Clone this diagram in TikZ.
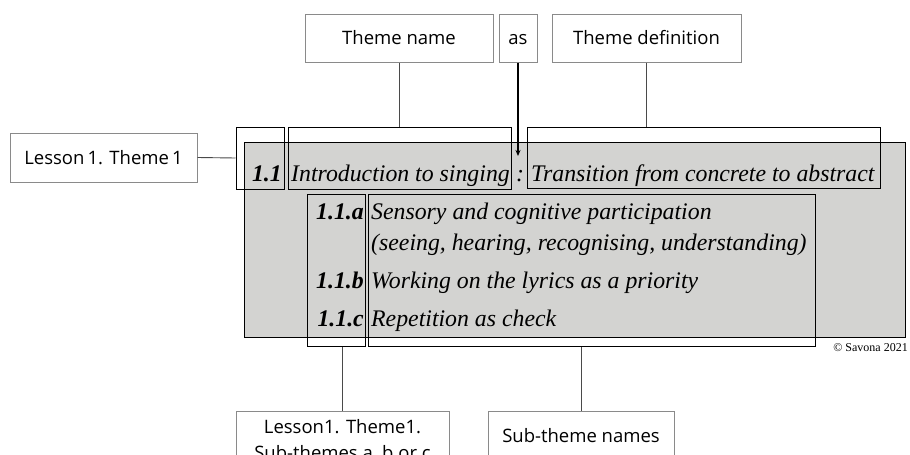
\documentclass[tikz,border=0pt]{standalone}
\usepackage{fontspec}
\setmainfont{Liberation Serif}
\newfontfamily\lblfont{Open Sans}
\usetikzlibrary{arrows.meta}
\definecolor{tablegrey}{HTML}{D3D3D1}
\definecolor{framegrey}{HTML}{8A8A8A}
\definecolor{linkgrey}{HTML}{4A4A4A}
\tikzset{
  lblbox/.style={draw=framegrey, line width=1pt, fill=white, inner sep=0pt,
    font=\lblfont\fontsize{18.5}{26}\selectfont, align=center},
  cell/.style={draw=black, line width=1pt, inner sep=0pt},
  link/.style={draw=linkgrey, line width=0.9pt},
  tt/.style={inner sep=0pt, anchor=base west, font=\fontsize{23.8}{28}\selectfont\itshape},
  nn/.style={inner sep=0pt, anchor=base east, font=\fontsize{23.8}{28}\selectfont\bfseries\itshape},
}
\begin{document}
\begin{tikzpicture}[x=1pt,y=-1pt]
\useasboundingbox (0,0) rectangle (910,455);
\clip (0,0) rectangle (910,455);
\fill[white] (0,0) rectangle (910,455);
% grey table
\node[draw=black, fill=tablegrey, line width=1pt, inner sep=0pt,
  minimum width=661pt, minimum height=195pt] (grey) at (574.5,239.5) {};
% cells
\node[cell, minimum width=48pt, minimum height=62pt] (n11) at (260,158) {};
\node[cell, minimum width=223pt, minimum height=62pt] (intro) at (399.5,158) {};
\node[cell, minimum width=353pt, minimum height=61pt] (defbox) at (703.5,157.5) {};
\node[cell, minimum width=58pt, minimum height=152pt] (subnum) at (336,270) {};
\node[cell, minimum width=447pt, minimum height=152pt] (subname) at (591.5,270) {};
% table texts
\node[nn] (t11) at (282,181) {1.1};
\node[tt] (tintro) at (291,181) {Introduction to singing};
\node[tt] (tcolon) at (516,181) {:};
\node[tt] (tdef) at (531,181) {Transition from concrete to abstract};
\node[nn] (ta) at (364,219) {1.1.a};
\node[nn] (tb) at (364,288) {1.1.b};
\node[nn] (tc) at (364,326) {1.1.c};
\node[tt] (sa1) at (371,219) {Sensory and cognitive participation};
\node[tt] (sa2) at (371,250) {(seeing, hearing, recognising, understanding)};
\node[tt] (sb) at (371,288) {Working on the lyrics as a priority};
\node[tt] (sc) at (371,326) {Repetition as check};
\node[inner sep=0pt, anchor=base east, font=\fontsize{12}{14}\selectfont] (copy) at (908,351) {\textcopyright\ Savona 2021};
% label boxes
\node[lblbox, minimum width=188pt, minimum height=48pt] (themename) at (399,38) {Theme name};
\node[lblbox, minimum width=38pt, minimum height=48pt] (asbox) at (518,38) {\vphantom{T}as};
\node[lblbox, minimum width=189pt, minimum height=48pt] (themedef) at (646.5,38) {Theme definition};
\node[lblbox, minimum width=187pt, minimum height=49pt] (lesson) at (103.5,157.5) {Lesson\,1. Theme\,1};
\node[lblbox, minimum width=213pt, minimum height=60pt] (bot1) at (342.5,441) {Lesson1. Theme1.\\Sub-themes a, b or c};
\node[lblbox, minimum width=186pt, minimum height=50pt] (bot2) at (581,436) {Sub-theme names};
% connectors
\coordinate (asend) at (518,156);
\draw[link] (lesson.east) -- (n11.west);
\draw[link] (themename.south) -- (themename.south |- intro.north);
\draw[link] (themedef.south) -- (themedef.south |- defbox.north);
\draw[link] (bot1.north) -- (bot1.north |- subnum.south);
\draw[link] (bot2.north) -- (bot2.north |- subname.south);
\draw[black, line width=1.6pt, -{Stealth[length=6pt,width=5pt]}] (asbox.south) -- (asend);
\end{tikzpicture}
\end{document}
